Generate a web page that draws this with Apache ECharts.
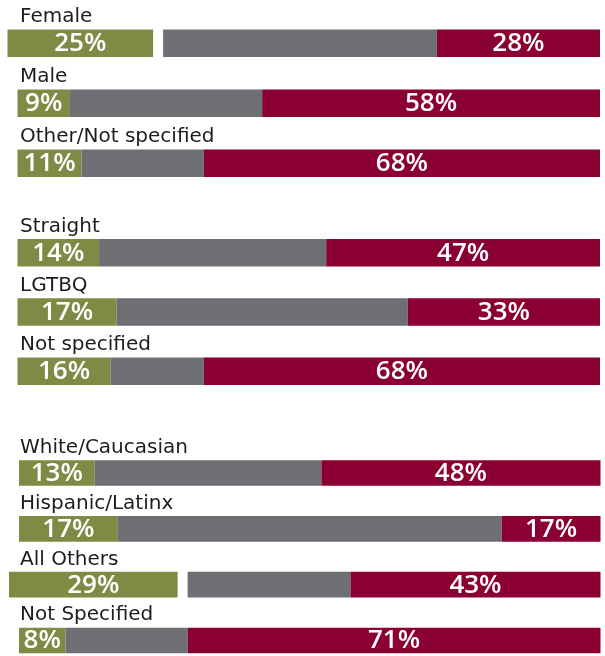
<!DOCTYPE html>
<html>
<head>
<meta charset="utf-8">
<script src="https://cdn.jsdelivr.net/npm/echarts@6/dist/echarts.min.js"></script>
<style>
  html, body { margin: 0; padding: 0; background: #ffffff; }
  #chart { width: 605px; height: 656px; }
</style>
</head>
<body>
<div id="chart"></div>
<script>
// Gender
const genderLabels = ['Female', 'Male', 'Other/Not specified'];
const genderGreen = [25, 9, 11];
const genderRed = [28, 58, 68];

// Orientation
const orientationLabels = ['Straight', 'LGTBQ', 'Not specified'];
const orientationGreen = [14, 17, 16];
const orientationRed = [47, 33, 68];

// Race / ethnicity
const raceLabels = ['White/Caucasian', 'Hispanic/Latinx', 'All Others', 'Not Specified'];
const raceGreen = [13, 17, 29, 8];
const raceRed = [48, 17, 43, 71];

// Look and layout
const COLOR_GREEN = '#818a45';
const COLOR_GRAY = '#6e6f73';
const COLOR_RED = '#8b0033';
const LABEL_FONT = 'normal 20px "DejaVu Sans"';
const VALUE_FONT = '600 26px "Open Sans"';
const detachedRows = ['Female', 'All Others'];   // green block pulled out to the left
const detachShift = 10;

// Each panel's grid runs from its first row's centre to its last row's centre
// (category axis without boundary gap).
const panels = [
  { labels: genderLabels, green: genderGreen, red: genderRed,
    grid: { left: 17.5, right: 5, top: 43.3, bottom: 492.7 }, barHeight: 27.5 },
  { labels: orientationLabels, green: orientationGreen, red: orientationRed,
    grid: { left: 17.5, right: 5, top: 252.8, bottom: 284.8 }, barHeight: 27.5 },
  { labels: raceLabels, green: raceGreen, red: raceRed,
    grid: { left: 19, right: 4.5, top: 473, bottom: 15.5 }, barHeight: 25.7 }
];

function makeRenderer(labels, barHeight) {
  return function (params, api) {
    const idx = api.value(0);
    const g = api.value(1);
    const r = api.value(2);
    const neutral = 100 - g - r;
    const p0 = api.coord([0, idx]);
    const x0 = p0[0];
    const yc = p0[1];
    const x1 = api.coord([g, idx])[0];
    const x2 = api.coord([g + neutral, idx])[0];
    const x3 = api.coord([100, idx])[0];
    const top = yc - barHeight / 2;
    const name = labels[idx];
    const shift = detachedRows.indexOf(name) >= 0 ? detachShift : 0;

    return {
      type: 'group',
      children: [
        { type: 'rect', shape: { x: x0 - shift, y: top, width: x1 - x0, height: barHeight },
          style: { fill: COLOR_GREEN } },
        { type: 'rect', shape: { x: x1, y: top, width: x2 - x1, height: barHeight },
          style: { fill: COLOR_GRAY } },
        { type: 'rect', shape: { x: x2, y: top, width: x3 - x2, height: barHeight },
          style: { fill: COLOR_RED } },
        { type: 'text', style: { text: name, x: 20, y: top - 2.5, align: 'left',
            verticalAlign: 'bottom', font: LABEL_FONT, fill: '#1d1d1d' } },
        { type: 'text', style: { text: g + '%', x: (x0 - shift + x1 - shift) / 2, y: yc + 0.5,
            align: 'center', verticalAlign: 'middle', font: VALUE_FONT, fill: '#ffffff' } },
        { type: 'text', style: { text: r + '%', x: (x2 + x3) / 2, y: yc + 0.5,
            align: 'center', verticalAlign: 'middle', font: VALUE_FONT, fill: '#ffffff' } }
      ]
    };
  };
}

const option = {
  backgroundColor: '#ffffff',
  animation: false,
  grid: panels.map(p => Object.assign({ containLabel: false }, p.grid)),
  xAxis: panels.map((p, i) => ({ type: 'value', gridIndex: i, min: 0, max: 100, show: false })),
  yAxis: panels.map((p, i) => ({ type: 'category', gridIndex: i, data: p.labels,
                                  inverse: true, boundaryGap: false, show: false })),
  series: panels.map((p, i) => ({
    type: 'custom',
    xAxisIndex: i,
    yAxisIndex: i,
    encode: { y: 0, x: 1 },
    clip: false,
    renderItem: makeRenderer(p.labels, p.barHeight),
    data: p.labels.map((_, k) => [k, p.green[k], p.red[k]])
  }))
};

const chart = echarts.init(document.getElementById('chart'), null, { renderer: 'canvas' });
chart.setOption(option);
</script>
</body>
</html>
